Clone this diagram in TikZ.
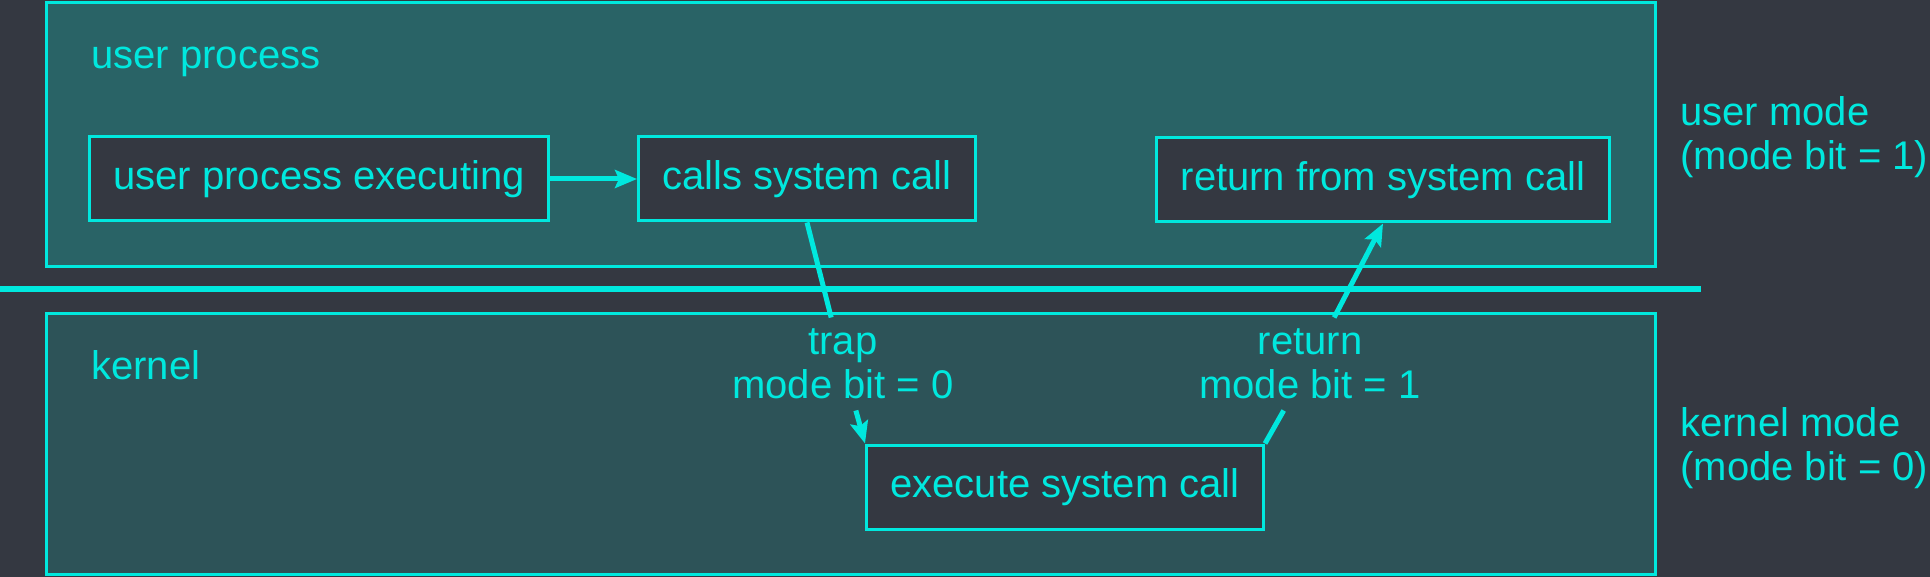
\documentclass[tikz,border=0pt]{standalone}
\usepackage{fontspec}
\setmainfont{Liberation Sans}
\usetikzlibrary{arrows.meta}
\definecolor{slate}{RGB}{52,56,65}
\definecolor{usrfill}{RGB}{41,99,102}
\definecolor{krnfill}{RGB}{45,83,88}
\definecolor{aqua}{RGB}{0,232,222}

\begin{document}
\begin{tikzpicture}[
  x=0.5pt,y=-0.5pt,
  every node/.style={text=aqua,font=\fontsize{20}{22}\selectfont},
  callbox/.style={rectangle,draw=aqua,line width=1.5pt,fill=slate,minimum height=42pt,inner xsep=12pt,inner ysep=0pt},
  tag/.style={inner sep=0pt},
  flow/.style={draw=aqua,line width=2.5pt},
  >={Stealth[length=11pt,width=9pt,inset=2pt]}
]

\fill[slate] (0,0) rectangle (1930,577);
\useasboundingbox (0,0) rectangle (1930,577);

\draw[aqua,line width=1.5pt,fill=usrfill] (46,2.5) rectangle (1655,266);
\draw[aqua,line width=1.5pt,fill=krnfill] (46,313) rectangle (1655,574);
\draw[aqua,line width=3pt] (0,289) -- (1701,289);

\node[tag,anchor=base west] (usr) at (91,69) {user process};
\node[tag,anchor=base west] (krn) at (91,379) {kernel};
\node[tag,anchor=west,align=left] (usrmode) at (1680,137) {user mode\\(mode bit = 1)};
\node[tag,anchor=west,align=left] (krnmode) at (1680,448) {kernel mode\\(mode bit = 0)};

\node[callbox] (exe) at (319,179) {user process executing};
\node[callbox] (calls) at (807,179) {calls system call};
\node[callbox] (ret) at (1383,180) {return from system call};
\node[callbox] (sys) at (1065,487) {execute system call};

\node[align=center,inner xsep=4pt,inner ysep=5.5pt] (trap) at (843,364) {trap\\mode bit = 0};
\node[align=center,inner xsep=4pt,inner ysep=5.5pt] (back) at (1310,364) {return\\mode bit = 1};

\draw[flow,->] (exe) -- (calls);
\draw[flow] (calls.south) -- (trap);
\draw[flow,->] (trap) -- (sys.north west);
\draw[flow] (sys.north east) -- (back);
\draw[flow,->] (back) -- (ret.south);

\end{tikzpicture}
\end{document}
